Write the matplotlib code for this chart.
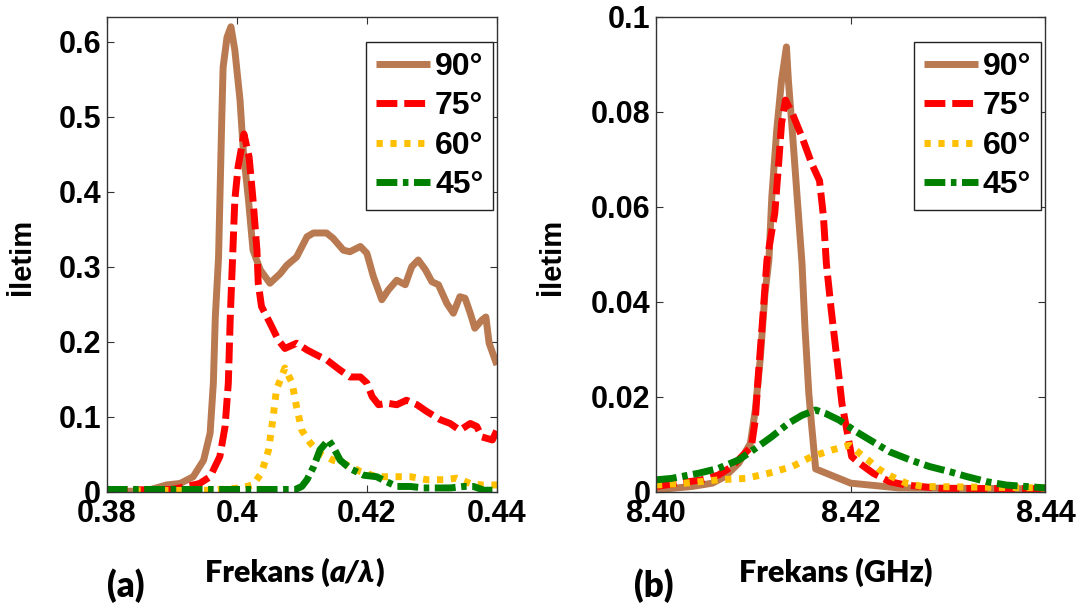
import matplotlib
matplotlib.use("Agg")
import matplotlib.pyplot as plt
from matplotlib.offsetbox import TextArea, HPacker, AnnotationBbox

angles = ["90°", "75°", "60°", "45°"]
colors = ["#b97a52", "#ff0000", "#ffc000", "#008000"]

# (a) transmission vs normalised frequency a/lambda
fa_90 = [0.380, 0.386, 0.3892, 0.3913, 0.3933, 0.3949, 0.3959, 0.3964, 0.3967, 0.3972,
         0.3977, 0.3979, 0.3985, 0.3991, 0.3997, 0.4005, 0.4010, 0.4018, 0.4025, 0.4036,
         0.4051, 0.4067, 0.4077, 0.4092, 0.4108, 0.4118, 0.4138, 0.4148, 0.4164, 0.4174,
         0.4190, 0.4200, 0.4210, 0.4223, 0.4233, 0.4246, 0.4259, 0.4269, 0.4279, 0.4290,
         0.4300, 0.4310, 0.4323, 0.4333, 0.4343, 0.4351, 0.4359, 0.4366, 0.4377, 0.4383,
         0.4388, 0.4400]
ta_90 = [0.000, 0.001, 0.009, 0.011, 0.020, 0.042, 0.078, 0.145, 0.233, 0.313,
         0.500, 0.566, 0.606, 0.620, 0.589, 0.522, 0.455, 0.389, 0.322, 0.296,
         0.278, 0.291, 0.302, 0.313, 0.340, 0.345, 0.345, 0.338, 0.322, 0.320,
         0.327, 0.318, 0.287, 0.256, 0.269, 0.282, 0.276, 0.300, 0.309, 0.296,
         0.280, 0.276, 0.251, 0.238, 0.260, 0.258, 0.238, 0.218, 0.229, 0.233,
         0.198, 0.169]

fa_75 = [0.380, 0.390, 0.3923, 0.3943, 0.3959, 0.3974, 0.3982, 0.3987, 0.3990, 0.3994,
         0.3997, 0.4002, 0.4011, 0.4019, 0.4025, 0.4031, 0.4033, 0.4038, 0.4051, 0.4064,
         0.4074, 0.4092, 0.4108, 0.4128, 0.4138, 0.4159, 0.4174, 0.4190, 0.4200, 0.4208,
         0.4218, 0.4231, 0.4246, 0.4261, 0.4277, 0.4292, 0.4313, 0.4328, 0.4343, 0.4359,
         0.4369, 0.4377, 0.4393, 0.4400]
ta_75 = [0.002, 0.003, 0.007, 0.011, 0.020, 0.047, 0.087, 0.145, 0.233, 0.322,
         0.389, 0.433, 0.477, 0.446, 0.389, 0.322, 0.278, 0.247, 0.225, 0.202,
         0.191, 0.198, 0.189, 0.180, 0.176, 0.162, 0.153, 0.153, 0.145, 0.127,
         0.116, 0.118, 0.116, 0.122, 0.116, 0.107, 0.096, 0.091, 0.082, 0.091,
         0.087, 0.073, 0.069, 0.082]

fa_60 = [0.380, 0.396, 0.3990, 0.4005, 0.4025, 0.4038, 0.4049, 0.4056, 0.4061, 0.4074,
         0.4085, 0.4092, 0.4100, 0.4113, 0.4128, 0.4148, 0.4164, 0.4190, 0.4215, 0.4241,
         0.4267, 0.4292, 0.4318, 0.4338, 0.4359, 0.4377, 0.4400]
ta_60 = [0.001, 0.002, 0.004, 0.005, 0.009, 0.025, 0.056, 0.100, 0.136, 0.165,
         0.145, 0.113, 0.082, 0.065, 0.051, 0.042, 0.038, 0.027, 0.020, 0.020,
         0.020, 0.016, 0.016, 0.018, 0.011, 0.009, 0.009]

fa_45 = [0.380, 0.409, 0.4100, 0.4108, 0.4118, 0.4128, 0.4141, 0.4148, 0.4159, 0.4174,
         0.4195, 0.4215, 0.4231, 0.4246, 0.4267, 0.4287, 0.4328, 0.4349, 0.4364, 0.4380,
         0.4400]
ta_45 = [0.003, 0.003, 0.007, 0.016, 0.033, 0.056, 0.069, 0.060, 0.042, 0.031,
         0.022, 0.020, 0.013, 0.007, 0.007, 0.005, 0.005, 0.007, 0.007, 0.002,
         0.002]

# (b) transmission vs frequency in GHz
fb_90 = [8.4000, 8.4016, 8.4037, 8.4058, 8.4071, 8.4085, 8.4097, 8.4102, 8.4107, 8.4112,
         8.4116, 8.4119, 8.4124, 8.4129, 8.4134, 8.4136, 8.4140, 8.4145, 8.4150, 8.4153,
         8.4157, 8.4160, 8.4164, 8.4200, 8.4249, 8.4400]
tb_90 = [0.0004, 0.0007, 0.0011, 0.0018, 0.0032, 0.0060, 0.0102, 0.0172, 0.0277, 0.0418,
         0.0488, 0.0621, 0.0761, 0.0867, 0.0937, 0.0867, 0.0761, 0.0621, 0.0481, 0.0347,
         0.0207, 0.0137, 0.0048, 0.0018, 0.0008, 0.0006]

fb_75 = [8.4000, 8.4023, 8.4047, 8.4064, 8.4078, 8.4088, 8.4098, 8.4102, 8.4105, 8.4109,
         8.4114, 8.4122, 8.4126, 8.4129, 8.4133, 8.4140, 8.4150, 8.4160, 8.4168, 8.4172,
         8.4175, 8.4180, 8.4186, 8.4191, 8.4196, 8.4201, 8.4209, 8.4223, 8.4240, 8.4257,
         8.4292, 8.4400]
tb_75 = [0.0011, 0.0018, 0.0025, 0.0035, 0.0053, 0.0074, 0.0095, 0.0151, 0.0242, 0.0347,
         0.0488, 0.0586, 0.0691, 0.0776, 0.0825, 0.0797, 0.0747, 0.0691, 0.0655, 0.0580,
         0.0481, 0.0383, 0.0277, 0.0186, 0.0130, 0.0074, 0.0060, 0.0039, 0.0021, 0.0014,
         0.0007, 0.0006]

fb_60 = [8.4000, 8.4030, 8.4064, 8.4092, 8.4116, 8.4140, 8.4160, 8.4181, 8.4199, 8.4209,
         8.4220, 8.4230, 8.4242, 8.4257, 8.4274, 8.4400]
tb_60 = [0.0014, 0.0018, 0.0025, 0.0028, 0.0039, 0.0053, 0.0074, 0.0088, 0.0098, 0.0081,
         0.0063, 0.0046, 0.0032, 0.0018, 0.0011, 0.0008]

fb_45 = [8.4000, 8.4016, 8.4044, 8.4064, 8.4085, 8.4102, 8.4119, 8.4136, 8.4150, 8.4164,
         8.4174, 8.4188, 8.4206, 8.4223, 8.4240, 8.4261, 8.4281, 8.4302, 8.4319, 8.4340,
         8.4360, 8.4400]
tb_45 = [0.0025, 0.0028, 0.0039, 0.0049, 0.0067, 0.0091, 0.0116, 0.0144, 0.0161, 0.0172,
         0.0165, 0.0151, 0.0126, 0.0105, 0.0084, 0.0067, 0.0053, 0.0042, 0.0032, 0.0021,
         0.0014, 0.0008]

xticks_a = [0.38, 0.40, 0.42, 0.44]
xtick_labels_a = ["0.38", "0.4", "0.42", "0.44"]
yticks_a = [0, 0.1, 0.2, 0.3, 0.4, 0.5, 0.6]
ytick_labels_a = ["0", "0.1", "0.2", "0.3", "0.4", "0.5", "0.6"]
xticks_b = [8.40, 8.42, 8.44]
xtick_labels_b = ["8.40", "8.42", "8.44"]
yticks_b = [0, 0.02, 0.04, 0.06, 0.08, 0.1]
ytick_labels_b = ["0", "0.02", "0.04", "0.06", "0.08", "0.1"]

# line styles: solid, dashed, dotted, dash-dot (MATLAB look)
styles = ["-", (0, (3, 1)), (0, (0.9, 1.1)), (0, (3, 0.8, 0.8, 0.8))]

tick_font = dict(family="Liberation Sans", weight="bold", size=22)

fig = plt.figure(figsize=(10.81, 6.09), dpi=100)
ax_a = fig.add_axes([0.0987, 0.1926, 0.361, 0.7795])
ax_b = fig.add_axes([0.6068, 0.1926, 0.3603, 0.7795])


def draw_panel(ax, curves, xlim, ylim, xt, xtl, yt, ytl, legend_x):
    for (f, t), c, ls, lab in zip(curves, colors, styles, angles):
        ax.plot(f, t, color=c, linestyle=ls, linewidth=5, label=lab,
                solid_capstyle="butt", dash_capstyle="butt", solid_joinstyle="round")
    ax.set_xlim(*xlim)
    ax.set_ylim(*ylim)
    ax.set_xticks(xt)
    ax.set_xticklabels(xtl, fontdict=tick_font)
    ax.set_yticks(yt)
    ax.set_yticklabels(ytl, fontdict=tick_font)
    ax.tick_params(direction="in", top=True, right=True, length=5, width=0.8,
                   color="#333333")
    ax.tick_params(axis="x", pad=5)
    ax.tick_params(axis="y", pad=4)
    for sp in ax.spines.values():
        sp.set_linewidth(1.0)
        sp.set_color("#333333")
    leg = ax.legend(loc="upper right", bbox_to_anchor=(legend_x, 0.947),
                    borderaxespad=0, fancybox=False, framealpha=1,
                    edgecolor="#222222", handlelength=1.7, handletextpad=0.15,
                    labelspacing=0.3, borderpad=0.3,
                    prop=dict(family="Liberation Sans", weight="bold", size=23))
    leg.get_frame().set_linewidth(1.0)


draw_panel(ax_a, [(fa_90, ta_90), (fa_75, ta_75), (fa_60, ta_60), (fa_45, ta_45)],
           (0.38, 0.44), (0, 0.633), xticks_a, xtick_labels_a, yticks_a, ytick_labels_a, 0.990)
draw_panel(ax_b, [(fb_90, tb_90), (fb_75, tb_75), (fb_60, tb_60), (fb_45, tb_45)],
           (8.40, 8.44), (0, 0.1), xticks_b, xtick_labels_b, yticks_b, ytick_labels_b, 0.988)

# y labels
for xp in (21.5, 552):
    fig.text(xp / 1081, 1 - 257 / 609, "İletim", rotation=90, ha="center", va="center",
             family="Liberation Sans", weight="bold", size=21)


def pieces_label(xp, yp, parts, size=22):
    boxes = [TextArea(s, textprops=dict(family=["Lato", "DejaVu Sans"], weight="heavy",
                                        size=size, style=st))
             for s, st in parts]
    pack = HPacker(children=boxes, align="baseline", pad=0, sep=0)
    ab = AnnotationBbox(pack, (xp, 609 - yp), xycoords="figure pixels", frameon=False,
                        box_alignment=(0.5, 0.5))
    fig.add_artist(ab)


pieces_label(294, 572, [("Frekans (", "normal"), ("a/λ", "italic"), (")", "normal")])
pieces_label(836, 572, [("Frekans (GHz)", "normal")])
pieces_label(126, 586, [("(a)", "normal")], size=25)
pieces_label(654, 586, [("(b)", "normal")], size=25)

fig.savefig("out.png", dpi=100)
